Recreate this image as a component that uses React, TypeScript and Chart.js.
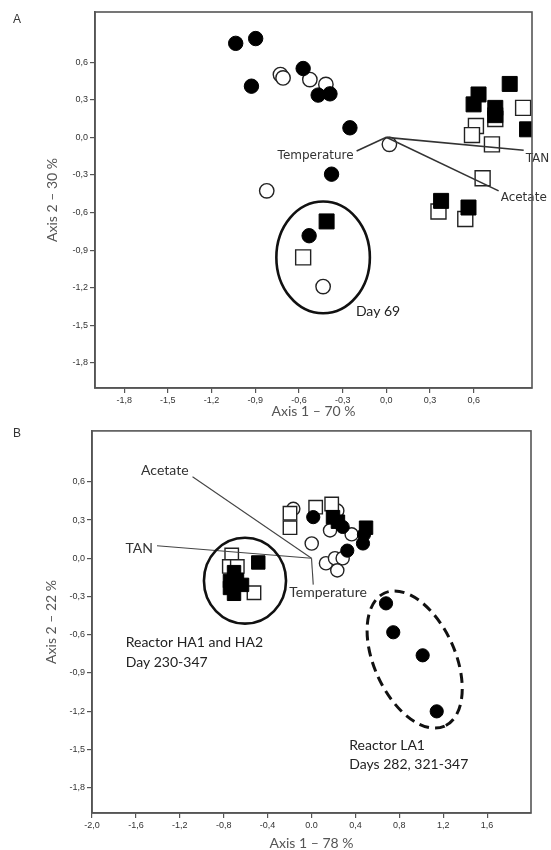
import { useEffect, useRef } from 'react';
import { Chart, registerables } from 'chart.js';

Chart.register(...registerables);

// ---------- Panel A ----------
const A_X_TICKS = [-1.8, -1.5, -1.2, -0.9, -0.6, -0.3, 0, 0.3, 0.6];
const A_X_LABELS = ['-1,8', '-1,5', '-1,2', '-0,9', '-0,6', '-0,3', '0,0', '0,3', '0,6'];
const A_Y_TICKS = [-1.8, -1.5, -1.2, -0.9, -0.6, -0.3, 0, 0.3, 0.6];
const A_Y_LABELS = ['-1,8', '-1,5', '-1,2', '-0,9', '-0,6', '-0,3', '0,0', '0,3', '0,6'];

const A_FILLED_CIRCLES = [
  [-1.034, 0.75], [-0.897, 0.788], [-0.926, 0.408], [-0.571, 0.549], [-0.468, 0.337],
  [-0.387, 0.347], [-0.25, 0.076], [-0.376, -0.294], [-0.53, -0.785],
];
const A_OPEN_CIRCLES = [
  [-0.727, 0.501], [-0.709, 0.474], [-0.525, 0.461], [-0.415, 0.422], [0.021, -0.056],
  [-0.821, -0.427], [-0.434, -1.191],
];
const A_FILLED_SQUARES = [
  [0.847, 0.426], [0.633, 0.342], [0.599, 0.263], [0.748, 0.235], [0.748, 0.177],
  [0.966, 0.064], [0.376, -0.507], [0.564, -0.56], [-0.41, -0.671],
];
const A_OPEN_SQUARES = [
  [0.939, 0.235], [0.615, 0.09], [0.588, 0.018], [0.748, 0.146], [0.725, -0.056],
  [0.661, -0.326], [0.358, -0.592], [0.542, -0.652], [-0.571, -0.958],
];
const A_VECTOR_NAMES = ['Temperature', 'TAN', 'Acetate'];
const A_VECTOR_X = [-0.204, 0.943, 0.771];
const A_VECTOR_Y = [-0.109, -0.103, -0.427];

// ---------- Panel B ----------
const B_X_TICKS = [-2.0, -1.6, -1.2, -0.8, -0.4, 0, 0.4, 0.8, 1.2, 1.6];
const B_X_LABELS = ['-2,0', '-1,6', '-1,2', '-0,8', '-0,4', '0.0', '0,4', '0,8', '1,2', '1,6'];
const B_Y_TICKS = [-1.8, -1.5, -1.2, -0.9, -0.6, -0.3, 0, 0.3, 0.6];
const B_Y_LABELS = ['-1,8', '-1,5', '-1,2', '-0,9', '-0,6', '-0,3', '0,0', '0,3', '0,6'];

const B_FILLED_CIRCLES = [
  [0.016, 0.323], [0.284, 0.246], [0.326, 0.06], [0.478, 0.186], [0.469, 0.116],
  [0.679, -0.354], [0.745, -0.581], [1.013, -0.762], [1.141, -1.202],
];
const B_OPEN_CIRCLES = [
  [-0.166, 0.388], [0.002, 0.116], [0.169, 0.219], [0.235, 0.374], [0.366, 0.188],
  [0.132, -0.039], [0.214, 0.0], [0.284, 0.0], [0.235, -0.095],
];
const B_FILLED_SQUARES = [
  [0.196, 0.323], [0.241, 0.287], [0.497, 0.24], [-0.485, -0.033], [-0.706, -0.109],
  [-0.743, -0.178], [-0.679, -0.171], [-0.633, -0.209], [-0.706, -0.279], [-0.743, -0.233],
];
const B_OPEN_SQUARES = [
  [-0.196, 0.354], [-0.196, 0.24], [0.038, 0.401], [0.184, 0.426], [-0.727, 0.026],
  [-0.749, -0.064], [-0.676, -0.064], [-0.524, -0.271],
];
const B_VECTOR_NAMES = ['Acetate', 'TAN', 'Temperature'];
const B_VECTOR_X = [-1.084, -1.408, 0.016];
const B_VECTOR_Y = [0.64, 0.098, -0.207];

// ---------- styling / annotation config ----------
const TICK_FONT = { family: '"Liberation Sans", Arial, sans-serif', size: 9 };
const TITLE_FONT = { family: 'Lato, "Open Sans", sans-serif', size: 14, lineHeight: 1 };
const LABEL_FONT_A = '12px "DejaVu Sans", Verdana, sans-serif';
const LABEL_FONT_B = '14px Lato, "Open Sans", sans-serif';

const A_LABEL_STYLE = [
  { dx: -3, dy: 5, align: 'right' },
  { dx: 2, dy: 9, align: 'left' },
  { dx: 2, dy: 7, align: 'left' },
];
const B_LABEL_STYLE = [
  { dx: -4, dy: -6, align: 'right' },
  { dx: -4, dy: 3, align: 'right' },
  { dx: -24, dy: 8, align: 'left' },
];

const A_ELLIPSES = [{ cx: -0.434, cy: -0.958, rx: 0.321, ry: 0.446, angle: 0, width: 2.6, dash: [] as number[] }];
const B_ELLIPSES = [
  { cx: -0.606, cy: -0.176, rx: 0.374, ry: 0.337, angle: 0, width: 2.6, dash: [] as number[] },
  { cx: 0.94, cy: -0.795, rx: 0.665, ry: 0.318, angle: 65.7, width: 3, dash: [10, 6] },
];
const A_NOTES = [{ text: 'Day 69', x: -0.209, y: -1.39 }];
const B_NOTES = [
  { text: 'Reactor HA1 and HA2', x: -1.693, y: -0.664 },
  { text: 'Day 230-347', x: -1.693, y: -0.822 },
  { text: 'Reactor LA1', x: 0.344, y: -1.467 },
  { text: 'Days 282, 321-347', x: 0.344, y: -1.62 },
];

function pts(arr: number[][]) {
  return arr.map(([x, y]) => ({ x, y }));
}

function markerSet(data: number[][], style: string, filled: boolean, r: number, order: number) {
  return {
    data: pts(data),
    pointStyle: style,
    pointRadius: r,
    pointHoverRadius: r,
    pointBackgroundColor: filled ? '#000' : '#fff',
    pointBorderColor: filled ? '#000' : '#222',
    pointBorderWidth: filled ? 1 : 1.4,
    showLine: false,
    order,
  };
}

function vectorSets(xs: number[], ys: number[], width: number, color: string) {
  return xs.map((x, i) => ({
    data: [{ x: 0, y: 0 }, { x, y: ys[i] }],
    showLine: true,
    borderColor: color,
    borderWidth: width,
    pointRadius: 0,
    pointHoverRadius: 0,
    fill: false,
    order: 0,
  }));
}

function overlayPlugin(opts: any) {
  return {
    id: 'overlay',
    afterDatasetsDraw(chart: any) {
      const { ctx, scales } = chart;
      const xs = scales.x;
      const ys = scales.y;
      const pxX = Math.abs(xs.getPixelForValue(1) - xs.getPixelForValue(0));
      const pxY = Math.abs(ys.getPixelForValue(1) - ys.getPixelForValue(0));
      ctx.save();
      for (const e of opts.ellipses) {
        ctx.beginPath();
        ctx.setLineDash(e.dash);
        ctx.lineWidth = e.width;
        ctx.strokeStyle = '#111';
        ctx.ellipse(
          xs.getPixelForValue(e.cx),
          ys.getPixelForValue(e.cy),
          e.rx * pxX,
          e.ry * pxY,
          (e.angle * Math.PI) / 180,
          0,
          Math.PI * 2
        );
        ctx.stroke();
      }
      ctx.setLineDash([]);
      ctx.textBaseline = 'middle';
      ctx.fillStyle = '#333';
      ctx.font = opts.vectorFont;
      opts.names.forEach((name: string, i: number) => {
        const st = opts.labelStyle[i];
        ctx.textAlign = st.align;
        ctx.fillText(name, xs.getPixelForValue(opts.vx[i]) + st.dx, ys.getPixelForValue(opts.vy[i]) + st.dy);
      });
      ctx.font = opts.noteFont;
      ctx.fillStyle = '#222';
      ctx.textAlign = 'left';
      for (const n of opts.notes) {
        ctx.fillText(n.text, xs.getPixelForValue(n.x), ys.getPixelForValue(n.y));
      }
      ctx.restore();
    },
    afterDraw(chart: any) {
      const { ctx, chartArea: a } = chart;
      ctx.save();
      ctx.strokeStyle = '#555';
      ctx.lineWidth = 1.6;
      ctx.strokeRect(a.left, a.top, a.right - a.left, a.bottom - a.top);
      ctx.restore();
    },
  };
}

function axis(
  min: number,
  max: number,
  ticks: number[],
  labels: string[],
  title: string,
  size: number,
  horizontal: boolean,
  titlePad: any
) {
  return {
    type: 'linear',
    min,
    max,
    afterBuildTicks: (s: any) => {
      s.ticks = ticks.map((v) => ({ value: v }));
    },
    afterFit: (s: any) => {
      if (horizontal) s.height = size;
      else s.width = size;
    },
    ticks: {
      callback: (_v: any, i: number) => labels[i],
      font: TICK_FONT,
      color: '#333',
      padding: 2,
      maxRotation: 0,
      autoSkip: false,
    },
    grid: { drawOnChartArea: false, drawTicks: true, tickLength: 5, color: '#555', lineWidth: 1.2 },
    border: { display: true, color: '#555', width: 1.6 },
    title: { display: true, text: title, font: TITLE_FONT, color: '#555', padding: titlePad },
  };
}

function makeChart(canvas: HTMLCanvasElement, cfg: any) {
  return new Chart(canvas, {
    type: 'scatter',
    data: { datasets: cfg.datasets },
    options: {
      responsive: false,
      animation: false,
      events: [],
      layout: { padding: cfg.padding },
      plugins: { legend: { display: false }, tooltip: { enabled: false } },
      scales: { x: cfg.x, y: cfg.y },
    } as any,
    plugins: [overlayPlugin(cfg.overlay)],
  } as any);
}

export default function App() {
  const refA = useRef<HTMLCanvasElement>(null);
  const refB = useRef<HTMLCanvasElement>(null);

  useEffect(() => {
    const chartA = makeChart(refA.current!, {
      datasets: [
        ...vectorSets(A_VECTOR_X, A_VECTOR_Y, 1.6, '#333'),
        markerSet(A_FILLED_SQUARES, 'rect', true, 10.6, 1),
        markerSet(A_FILLED_CIRCLES, 'circle', true, 7.2, 2),
        markerSet(A_OPEN_SQUARES, 'rect', false, 10.6, 3),
        markerSet(A_OPEN_CIRCLES, 'circle', false, 7.2, 4),
      ],
      padding: { top: 11, right: 19, left: 0, bottom: 0 },
      x: axis(-2, 1, A_X_TICKS, A_X_LABELS, 'Axis 1 – 70 %', 32, true, { top: 0, bottom: 2 }),
      y: axis(-2, 1, A_Y_TICKS, A_Y_LABELS, 'Axis 2 – 30 %', 95, false, { top: 45, bottom: 0 }),
      overlay: {
        ellipses: A_ELLIPSES,
        names: A_VECTOR_NAMES,
        vx: A_VECTOR_X,
        vy: A_VECTOR_Y,
        labelStyle: A_LABEL_STYLE,
        vectorFont: LABEL_FONT_A,
        notes: A_NOTES,
        noteFont: LABEL_FONT_B,
      },
    });
    const chartB = makeChart(refB.current!, {
      datasets: [
        ...vectorSets(B_VECTOR_X, B_VECTOR_Y, 1.1, '#444'),
        markerSet(B_FILLED_SQUARES, 'rect', true, 9.5, 1),
        markerSet(B_FILLED_CIRCLES, 'circle', true, 6.6, 2),
        markerSet(B_OPEN_SQUARES, 'rect', false, 9.5, 3),
        markerSet(B_OPEN_CIRCLES, 'circle', false, 6.6, 4),
      ],
      padding: { top: 6, right: 20, left: 0, bottom: 0 },
      x: axis(-2, 2, B_X_TICKS, B_X_LABELS, 'Axis 1 – 78 %', 37, true, { top: 0, bottom: 0 }),
      y: axis(-2, 1, B_Y_TICKS, B_Y_LABELS, 'Axis 2 – 22 %', 92, false, { top: 44, bottom: 0 }),
      overlay: {
        ellipses: B_ELLIPSES,
        names: B_VECTOR_NAMES,
        vx: B_VECTOR_X,
        vy: B_VECTOR_Y,
        labelStyle: B_LABEL_STYLE,
        vectorFont: LABEL_FONT_B,
        notes: B_NOTES,
        noteFont: LABEL_FONT_B,
      },
    });
    return () => {
      chartA.destroy();
      chartB.destroy();
    };
  }, []);

  const panelLabel: any = {
    position: 'absolute',
    left: 13,
    font: '12px "Liberation Sans", Arial, sans-serif',
    color: '#333',
    lineHeight: '14px',
  };

  return (
    <div style={{ position: 'absolute', left: 0, top: 0, width: 551, height: 850, background: '#fff', overflow: 'hidden' }}>
      <canvas ref={refA} width={551} height={420} style={{ position: 'absolute', left: 0, top: 0 }} />
      <canvas ref={refB} width={551} height={430} style={{ position: 'absolute', left: 0, top: 420 }} />
      <div style={{ ...panelLabel, top: 12 }}>A</div>
      <div style={{ ...panelLabel, top: 426 }}>B</div>
    </div>
  );
}
